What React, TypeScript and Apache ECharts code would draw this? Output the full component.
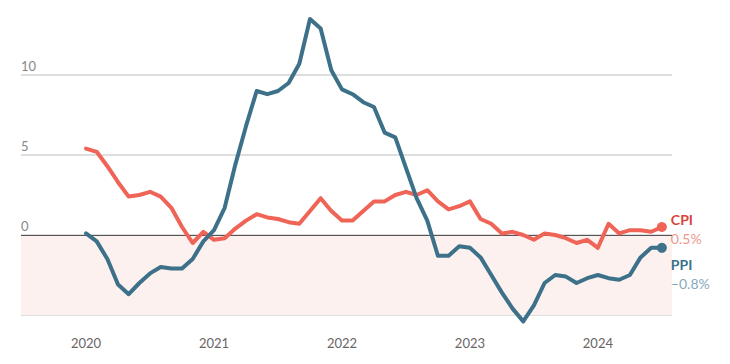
import { useEffect, useRef } from 'react';
import * as echarts from 'echarts';

const START_YEAR = 2020;
const yearTicks = [2020, 2021, 2022, 2023, 2024];
const yTicks = [-5, 0, 5, 10];

// China CPI, YoY %, Jan 2020 – Jul 2024
const cpi = [
  5.4, 5.2, 4.3, 3.3, 2.4, 2.5, 2.7, 2.4, 1.7, 0.5, -0.5, 0.2,
  -0.3, -0.2, 0.4, 0.9, 1.3, 1.1, 1.0, 0.8, 0.7, 1.5, 2.3, 1.5,
  0.9, 0.9, 1.5, 2.1, 2.1, 2.5, 2.7, 2.5, 2.8, 2.1, 1.6, 1.8,
  2.1, 1.0, 0.7, 0.1, 0.2, 0.0, -0.3, 0.1, 0.0, -0.2, -0.5, -0.3,
  -0.8, 0.7, 0.1, 0.3, 0.3, 0.2, 0.5,
];
// China PPI, YoY %, Jan 2020 – Jul 2024
const ppi = [
  0.1, -0.4, -1.5, -3.1, -3.7, -3.0, -2.4, -2.0, -2.1, -2.1, -1.5, -0.4,
  0.3, 1.7, 4.4, 6.8, 9.0, 8.8, 9.0, 9.5, 10.7, 13.5, 12.9, 10.3,
  9.1, 8.8, 8.3, 8.0, 6.4, 6.1, 4.2, 2.3, 0.9, -1.3, -1.3, -0.7,
  -0.8, -1.4, -2.5, -3.6, -4.6, -5.4, -4.4, -3.0, -2.5, -2.6, -3.0, -2.7,
  -2.5, -2.7, -2.8, -2.5, -1.4, -0.8, -0.8,
];

const FONT = 'Lato, "Open Sans", sans-serif';
const CPI_COLOR = '#ef6457';
const PPI_COLOR = '#3c7189';

const minus = (s: string) => s.replace('-', '\u2212');
const toPoints = (arr: number[]) => arr.map((v, i) => [i, v]);

export default function App() {
  const ref = useRef<HTMLDivElement>(null);
  useEffect(() => {
    document.body.style.margin = '0';
    if (!ref.current) return;
    const chart = echarts.init(ref.current, null, { renderer: 'svg' });
    const lastIdx = cpi.length - 1;
    const monthTicks = yearTicks.map((y) => (y - START_YEAR) * 12);
    const lineSeries = (name: string, data: number[], color: string, nameColor: string, valColor: string, offY: number) => ({
      name,
      type: 'line',
      data: toPoints(data),
      z: 4,
      clip: false,
      symbol: (_v: any, p: any) => (p.dataIndex === lastIdx ? 'circle' : 'none'),
      symbolSize: 10,
      showSymbol: true,
      lineStyle: { color, width: 4, join: 'round', cap: 'round' },
      itemStyle: { color },
      emphasis: { disabled: true },
      endLabel: {
        show: true,
        distance: 9,
        offset: [0, offY],
        formatter: (p: any) => `{n|${p.seriesName}}\n{v|${minus(p.value[1].toFixed(1))}%}`,
        rich: {
          n: { fontFamily: FONT, fontWeight: 'bold', fontSize: 14, color: nameColor, lineHeight: 19 },
          v: { fontFamily: FONT, fontSize: 14, color: valColor, lineHeight: 19 },
        },
      },
    });
    const option: any = {
      animation: false,
      grid: { left: 21, right: 58, top: -5, bottom: 49, outerBoundsMode: 'none', containLabel: false },
      xAxis: {
        type: 'value',
        min: -6.1,
        max: 54.95,
        offset: 6,
        splitLine: { show: false },
        axisLine: { show: false },
        axisTick: { show: true, customValues: monthTicks, length: 4, lineStyle: { color: '#555', width: 1 } },
        axisLabel: {
          customValues: monthTicks,
          formatter: (v: number) => String(START_YEAR + Math.round(v / 12)),
          color: '#666',
          fontFamily: FONT,
          fontSize: 13,
          margin: 15,
        },
      },
      yAxis: {
        type: 'value',
        min: -5,
        max: 15,
        interval: 5,
        axisLine: { show: false },
        axisTick: { show: false },
        splitLine: { show: true, lineStyle: { color: '#d3d3d3', width: 1.5 } },
        axisLabel: {
          inside: true,
          margin: 0,
          align: 'left',
          verticalAlign: 'bottom',
          lineHeight: 13,
          padding: [0, 0, 3, 0],
          color: '#888',
          fontFamily: FONT,
          fontSize: 13,
          formatter: (v: number) => (yTicks.includes(v) ? minus(String(v)) : ''),
        },
      },
      series: [
        {
          type: 'line',
          data: [],
          z: 1,
          silent: true,
          markArea: {
            silent: true,
            itemStyle: { color: '#fdf1ef' },
            data: [[{ yAxis: 0, xAxis: -6.1 }, { yAxis: -5, xAxis: 54.95 }]],
          },
          markLine: {
            silent: true,
            z: 2,
            symbol: 'none',
            label: { show: false },
            lineStyle: { color: '#555', width: 1, type: 'solid' },
            data: [{ yAxis: 0 }],
          },
        },
        lineSeries('CPI', cpi, CPI_COLOR, '#d8443c', '#f0968c', 2),
        lineSeries('PPI', ppi, PPI_COLOR, '#3d7189', '#88a9bb', 26.5),
      ],
    };
    chart.setOption(option);
    return () => chart.dispose();
  }, []);
  return <div ref={ref} style={{ width: 730, height: 364 }} />;
}
